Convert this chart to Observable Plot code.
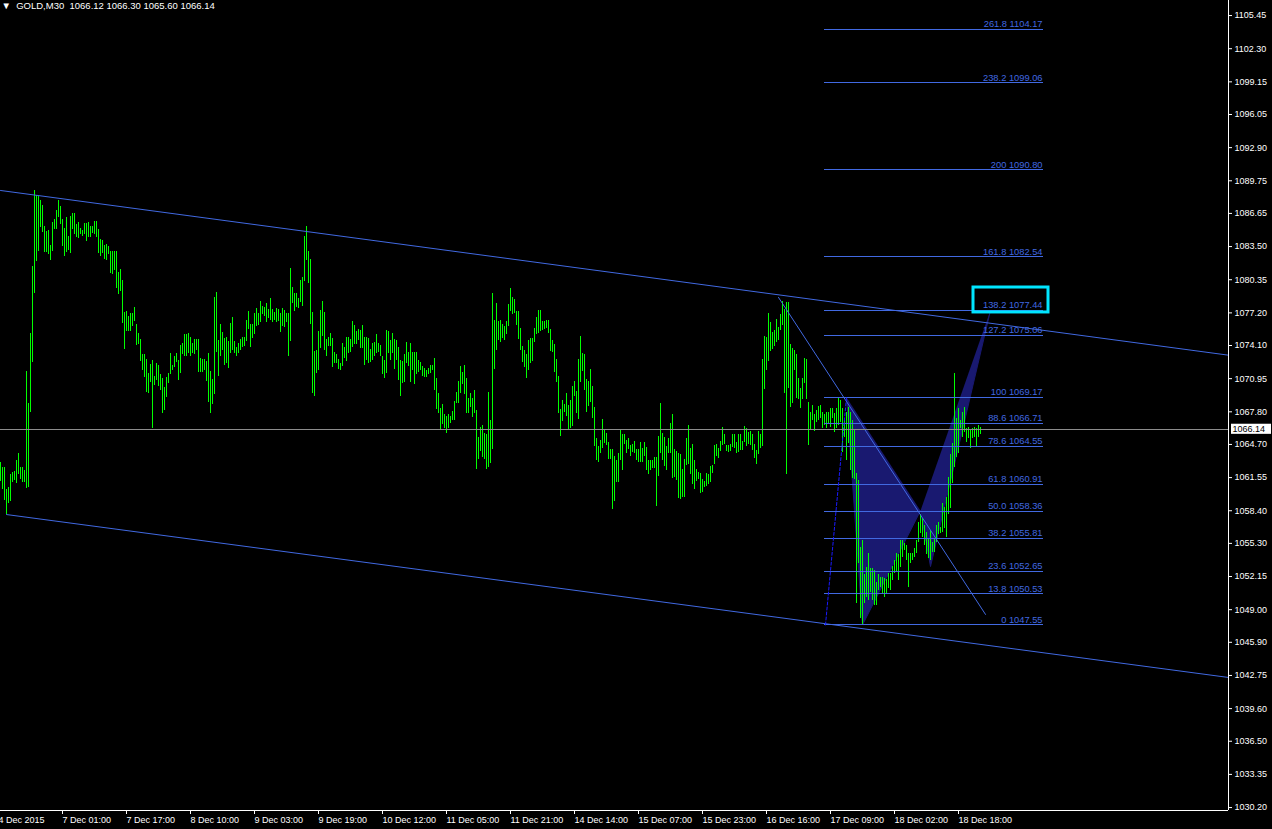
<!DOCTYPE html>
<html><head><meta charset="utf-8">
<script src="https://cdn.jsdelivr.net/npm/d3@7"></script>
<script src="https://cdn.jsdelivr.net/npm/@observablehq/plot@0.6"></script>
<style>html,body{margin:0;padding:0;background:#000;overflow:hidden}#chart svg{display:block}</style>
</head><body><div id="chart"></div>
<script>
const symbol = "GOLD,M30";
const lastBar = [1066.12, 1066.30, 1065.60, 1066.14]; // open high low close

const barHigh = [
1063.0,1062.5,1062.5,1060.4,1060.6,1061.8,1062.0,1062.1,1063.2,1063.8,
1062.5,1062.5,1062.2,1071.6,1068.6,1075.2,1081.6,1088.8,1088.4,1088.3,
1087.9,1087.4,1085.4,1084.9,1085.0,1083.6,1085.8,1086.1,1086.9,1087.9,
1087.3,1086.1,1085.2,1086.3,1084.5,1086.4,1086.6,1086.6,1085.6,1085.8,
1085.2,1085.0,1085.7,1085.7,1085.8,1085.4,1085.4,1085.9,1085.9,1085.1,
1084.2,1084.1,1083.6,1083.7,1083.5,1083.0,1083.0,1083.0,1083.0,1081.0,
1081.3,1080.3,1077.2,1077.3,1076.9,1077.1,1077.1,1077.7,1076.1,1075.2,
1074.7,1073.2,1073.2,1072.8,1071.4,1072.3,1072.7,1071.2,1072.4,1072.2,
1071.3,1071.0,1070.1,1071.1,1071.4,1073.3,1072.2,1073.1,1073.3,1072.7,
1074.1,1074.3,1075.1,1075.1,1075.2,1074.9,1074.3,1074.7,1074.7,1074.7,
1072.9,1072.8,1072.8,1072.6,1073.3,1071.6,1070.9,1078.7,1079.1,1074.6,
1076.1,1075.3,1074.8,1074.9,1074.5,1076.2,1076.8,1074.5,1073.9,1074.3,
1074.7,1074.9,1074.9,1076.5,1077.3,1076.1,1076.1,1077.1,1077.6,1077.1,
1078.3,1077.8,1077.7,1078.1,1077.5,1078.6,1077.5,1077.2,1077.6,1077.5,
1077.1,1077.6,1077.4,1077.1,1077.1,1081.4,1079.6,1079.0,1079.0,1078.6,
1080.3,1080.6,1084.5,1085.4,1083.0,1082.3,1077.2,1073.5,1073.6,1075.4,
1077.4,1078.3,1077.2,1074.7,1074.9,1075.2,1074.8,1073.4,1073.2,1072.8,
1072.4,1074.3,1073.9,1074.9,1074.9,1074.7,1076.4,1076.0,1075.4,1075.6,
1075.5,1076.0,1074.9,1074.9,1074.8,1073.7,1074.3,1074.4,1075.1,1074.3,
1074.1,1073.1,1072.7,1075.5,1075.4,1074.6,1075.2,1074.7,1074.6,1073.9,
1072.7,1072.6,1073.2,1074.4,1073.4,1074.3,1073.4,1073.4,1073.4,1072.7,
1072.5,1072.1,1071.9,1071.7,1071.9,1072.2,1072.2,1072.9,1071.0,1069.5,
1068.1,1068.5,1067.5,1067.4,1067.5,1067.4,1067.8,1068.8,1069.6,1070.7,
1072.1,1071.5,1072.2,1071.0,1069.1,1069.5,1069.1,1069.8,1067.9,1065.4,
1066.3,1066.5,1065.7,1065.6,1069.6,1067.0,1079.0,1076.5,1078.1,1076.4,
1076.5,1076.1,1075.9,1076.4,1078.0,1079.5,1078.7,1078.5,1077.3,1077.3,
1075.7,1074.0,1073.6,1073.2,1074.6,1074.8,1074.8,1075.7,1076.8,1077.4,
1077.4,1076.4,1076.4,1076.5,1076.5,1075.6,1074.6,1074.2,1072.8,1071.2,
1068.0,1068.9,1068.5,1069.5,1068.4,1068.9,1070.2,1070.7,1069.7,1072.8,
1075.0,1073.3,1073.2,1070.9,1070.7,1071.8,1070.2,1068.2,1065.3,1064.5,
1065.1,1067.1,1066.1,1065.7,1064.9,1064.2,1064.2,1063.6,1063.2,1063.8,
1066.0,1065.6,1065.6,1065.1,1065.3,1064.6,1064.7,1065.0,1064.2,1064.2,
1064.9,1064.3,1064.9,1064.4,1063.2,1063.2,1063.2,1063.5,1063.5,1065.5,
1068.6,1065.7,1065.4,1064.5,1065.3,1066.7,1067.5,1064.2,1064.0,1063.8,
1063.7,1062.3,1063.3,1065.3,1066.5,1064.3,1064.7,1063.2,1062.3,1062.0,
1061.9,1061.4,1061.2,1061.9,1061.8,1062.6,1062.7,1064.6,1064.7,1064.3,
1065.0,1066.3,1065.6,1064.6,1064.6,1064.7,1065.6,1065.6,1064.9,1065.6,
1065.6,1065.0,1066.4,1066.2,1065.8,1065.9,1065.6,1064.7,1064.1,1065.9,
1065.6,1072.8,1075.0,1074.9,1077.1,1076.3,1075.3,1075.5,1076.6,1075.8,
1077.0,1078.3,1077.5,1078.2,1078.2,1074.2,1073.8,1073.6,1073.2,1071.0,
1070.0,1071.0,1072.9,1072.8,1068.7,1067.7,1068.4,1067.5,1067.9,1068.3,
1068.4,1067.7,1067.5,1067.7,1067.7,1068.1,1068.1,1067.6,1068.1,1069.2,
1068.9,1068.1,1067.0,1067.7,1068.2,1067.7,1067.0,1066.0,1061.9,1061.3,
1054.9,1055.6,1052.3,1053.0,1054.3,1052.9,1052.9,1052.7,1051.6,1052.3,
1052.1,1052.1,1052.0,1051.9,1052.4,1052.4,1053.1,1053.7,1054.3,1054.2,
1055.6,1055.6,1055.3,1055.1,1054.3,1054.3,1054.3,1054.8,1055.6,1057.3,
1058.0,1057.7,1057.0,1056.3,1055.8,1056.5,1055.4,1055.8,1057.0,1057.3,
1056.8,1059.1,1058.7,1059.7,1061.6,1063.7,1064.8,1071.4,1067.2,1068.1,
1067.0,1067.7,1068.2,1066.2,1066.3,1066.0,1066.2,1066.3,1066.2,1066.5,1066.3
];
const barLow = [
1061.2,1060.4,1059.4,1058.0,1059.1,1059.3,1061.1,1061.3,1061.0,1061.8,
1061.4,1061.1,1061.1,1060.5,1060.6,1067.7,1072.5,1079.0,1082.1,1083.0,
1085.3,1084.8,1082.9,1082.9,1082.7,1082.2,1083.0,1085.1,1085.1,1086.3,
1085.6,1083.5,1082.6,1082.9,1083.1,1082.8,1085.1,1084.6,1084.4,1084.3,
1084.6,1084.5,1084.6,1084.0,1084.4,1084.4,1084.7,1084.6,1084.4,1082.8,
1082.6,1082.8,1082.3,1082.2,1082.7,1080.9,1080.8,1081.2,1079.5,1078.9,
1079.2,1076.2,1073.7,1075.4,1075.4,1075.4,1075.9,1076.4,1074.1,1074.2,
1072.6,1071.7,1071.1,1069.6,1069.5,1070.6,1066.2,1070.3,1070.8,1070.2,
1069.8,1067.6,1067.9,1069.2,1070.5,1071.3,1071.7,1072.0,1072.5,1070.8,
1071.4,1073.2,1073.1,1073.1,1073.3,1073.1,1073.3,1073.2,1073.6,1071.5,
1071.5,1071.5,1071.7,1070.7,1068.7,1067.6,1068.5,1069.4,1073.4,1071.2,
1073.1,1073.6,1072.2,1072.4,1071.9,1073.3,1073.6,1073.3,1073.1,1073.3,
1073.6,1073.9,1074.0,1074.5,1075.6,1073.9,1074.8,1075.1,1075.9,1076.0,
1076.3,1077.0,1076.9,1076.3,1076.7,1076.5,1076.3,1076.5,1076.3,1076.4,
1075.3,1075.9,1075.8,1076.3,1073.1,1074.5,1078.1,1077.3,1077.7,1077.6,
1078.2,1077.8,1080.2,1082.2,1080.0,1076.1,1069.5,1069.3,1071.4,1071.7,
1073.8,1075.0,1073.6,1073.1,1074.0,1074.0,1072.0,1072.4,1072.4,1071.8,
1071.7,1072.1,1072.9,1072.6,1073.3,1073.4,1073.9,1074.2,1074.2,1074.6,
1073.8,1073.8,1072.2,1072.7,1072.4,1072.5,1072.7,1073.1,1073.3,1073.4,
1073.1,1071.3,1071.0,1071.4,1073.3,1072.7,1073.3,1071.8,1072.7,1070.8,
1069.3,1070.5,1070.6,1072.4,1072.1,1070.6,1071.7,1070.4,1071.3,1071.5,
1071.7,1071.2,1071.1,1071.1,1071.3,1071.4,1071.7,1069.8,1068.0,1067.6,
1066.0,1066.6,1066.2,1065.7,1066.2,1066.7,1067.0,1067.0,1068.6,1068.6,
1069.5,1070.4,1069.4,1067.6,1067.6,1068.2,1067.3,1067.6,1062.3,1063.3,
1064.0,1063.5,1063.3,1062.3,1062.5,1062.9,1064.2,1071.8,1073.6,1074.6,
1074.4,1074.8,1074.6,1075.1,1075.9,1077.3,1077.0,1077.1,1076.0,1074.7,
1073.6,1072.5,1072.0,1071.0,1071.7,1072.4,1072.6,1074.4,1075.1,1075.2,
1075.4,1075.5,1075.6,1075.7,1075.2,1073.5,1073.4,1071.5,1070.6,1067.6,
1065.5,1066.9,1067.7,1067.4,1066.1,1066.2,1066.4,1069.3,1067.6,1067.1,
1070.6,1071.6,1069.8,1067.7,1068.3,1068.7,1067.2,1064.5,1063.2,1063.0,
1063.8,1064.3,1064.8,1064.6,1063.3,1063.3,1058.5,1059.3,1061.1,1061.1,
1063.2,1062.2,1064.7,1063.8,1064.2,1063.6,1063.9,1063.8,1063.2,1063.0,
1063.0,1063.0,1063.6,1062.2,1061.8,1062.2,1062.4,1062.4,1058.8,1061.7,
1063.8,1063.2,1062.6,1062.2,1063.8,1063.8,1061.5,1061.6,1061.3,1059.6,
1059.5,1059.7,1059.7,1062.7,1062.8,1061.8,1060.9,1060.4,1061.2,1061.4,
1060.0,1060.1,1060.6,1060.7,1060.9,1061.1,1061.9,1062.8,1063.6,1063.4,
1064.0,1064.6,1064.7,1064.0,1063.9,1064.0,1064.4,1064.3,1063.8,1063.9,
1064.1,1064.1,1064.9,1064.5,1064.7,1064.6,1064.1,1063.4,1062.8,1063.7,
1064.3,1064.5,1069.9,1071.7,1072.6,1073.5,1073.7,1074.0,1074.4,1074.6,
1075.5,1076.0,1069.5,1061.8,1070.0,1068.2,1068.6,1071.7,1069.1,1069.0,
1068.1,1069.0,1070.5,1069.0,1064.6,1066.0,1067.0,1065.9,1066.8,1067.0,
1067.2,1066.2,1066.5,1066.2,1066.7,1066.3,1067.2,1065.8,1066.2,1066.5,
1066.8,1063.9,1065.4,1063.2,1064.8,1062.2,1061.5,1061.4,1049.6,1053.4,
1048.2,1047.5,1049.6,1050.2,1049.9,1050.6,1049.9,1049.4,1049.4,1050.8,
1051.1,1050.5,1050.2,1050.5,1051.0,1050.8,1051.8,1052.4,1052.5,1051.8,
1053.0,1054.0,1054.6,1053.7,1051.1,1053.4,1053.7,1054.0,1054.3,1055.4,
1056.2,1055.9,1055.1,1054.2,1053.9,1053.7,1054.4,1054.4,1055.4,1056.1,
1056.2,1056.3,1056.7,1055.9,1058.0,1058.6,1061.0,1062.5,1063.5,1063.8,
1066.2,1065.4,1065.8,1064.9,1065.3,1064.3,1065.3,1065.4,1064.4,1065.4,1065.6
];

const priceTicks = [1105.45,1102.30,1099.15,1096.05,1092.90,1089.75,1086.65,1083.50,1080.35,1077.20,
  1074.10,1070.95,1067.80,1064.70,1061.55,1058.40,1055.30,1052.15,1049.00,1045.90,1042.75,1039.60,1036.50,1033.35,1030.20];
const dateTickBars = [-1,31,63,95,127,159,191,223,255,287,319,351,383,415,447,479];
const dateTickLabels = ["4 Dec 2015","7 Dec 01:00","7 Dec 17:00","8 Dec 10:00","9 Dec 03:00","9 Dec 19:00",
  "10 Dec 12:00","11 Dec 05:00","11 Dec 21:00","14 Dec 14:00","15 Dec 07:00","15 Dec 23:00",
  "16 Dec 16:00","17 Dec 09:00","18 Dec 02:00","18 Dec 18:00"];

const fibPct = ["261.8","238.2","200","161.8","138.2","127.2","100","88.6","78.6","61.8","50.0","38.2","23.6","13.8","0"];
const fibPrice = [1104.17,1099.06,1090.80,1082.54,1077.44,1075.06,1069.17,1066.71,1064.55,1060.91,1058.36,1055.81,1052.65,1050.53,1047.55];
const fibBars = [412, 521.5];

const channelUpper = [[0, 1088.83], [614, 1073.18]];
const channelLower = [[3, 1058.04], [614, 1042.56]];
const trendLine = [[389, 1078.67], [492.5, 1048.55]];
const legXA = [[412.5, 1047.55], [423, 1069.17]];
const triangleA = [[423, 1069.17], [431, 1047.55], [460, 1058.4]];
const triangleB = [[460, 1058.4], [465, 1053.1], [495, 1077.44]];
const highlightBox = [[486.5, 1077.24], [524, 1079.61]];

const xDomain = [0, 614];
const yDomain = [1029.92, 1106.88];

const bars = barHigh.map((h, i) => ({i, high: h, low: barLow[i]}));
const tris = [...triangleA.map(p => ({t: "A", i: p[0], p: p[1]})), ...triangleB.map(p => ({t: "B", i: p[0], p: p[1]}))];
const fib = fibPrice.map((p, k) => ({p, label: `${fibPct[k]} ${p.toFixed(2)}`}));
const dateLabel = new Map(dateTickBars.map((b, k) => [b, dateTickLabels[k]]));
const pt = {x: d => d[0], y: d => d[1]};
const blue = "#4169E1";
const close = lastBar[3];

const chart = Plot.plot({
  width: 1272, height: 829,
  marginLeft: 0, marginRight: 44, marginTop: 0, marginBottom: 19,
  x: {domain: xDomain},
  y: {domain: yDomain},
  style: {background: "#000", color: "#fff", fontFamily: "'Liberation Sans', Arial, sans-serif", fontSize: "9px"},
  marks: [
    Plot.line(tris, {x: "i", y: "p", z: "t", fill: "#191970", stroke: "#191970", strokeWidth: 1}),
    Plot.ruleX(bars, {x: "i", y1: "low", y2: "high", stroke: "#00ff00", strokeWidth: 1, shapeRendering: "crispEdges"}),
    Plot.line(channelUpper, {...pt, stroke: blue, strokeWidth: 1}),
    Plot.line(channelLower, {...pt, stroke: blue, strokeWidth: 1}),
    Plot.line(trendLine, {...pt, stroke: blue, strokeWidth: 1}),
    Plot.ruleY(fib, {y: "p", x1: fibBars[0], x2: fibBars[1], stroke: blue, strokeWidth: 1, shapeRendering: "crispEdges"}),
    Plot.text(fib, {y: "p", x: fibBars[1], text: "label", textAnchor: "end", lineAnchor: "bottom", dy: -2, dx: -1, fill: blue, fontSize: 9.3}),
    Plot.line(legXA, {...pt, stroke: "#1a1aff", strokeWidth: 1, strokeDasharray: "3,2"}),
    Plot.ruleY([close], {stroke: "#8c8c8c", strokeWidth: 1, shapeRendering: "crispEdges"}),
    Plot.rect([highlightBox], {x1: d => d[0][0], x2: d => d[1][0], y1: d => d[0][1], y2: d => d[1][1], fill: "none", stroke: "#00e5ff", strokeWidth: 3}),
    Plot.ruleY([yDomain[0]], {stroke: "#fff", shapeRendering: "crispEdges"}),
    Plot.ruleX([xDomain[1]], {stroke: "#fff", shapeRendering: "crispEdges"}),
    Plot.axisY(priceTicks, {anchor: "right", tickSize: 3, tickPadding: 3, tickFormat: d => d.toFixed(2), stroke: "#fff", fill: "#fff", label: null, fontSize: 9}),
    Plot.axisX(dateTickBars, {anchor: "bottom", tickSize: 4, tickPadding: 2, tickFormat: d => dateLabel.get(d), textAnchor: "start", stroke: "#fff", fill: "#fff", label: null, fontSize: 9}),
    Plot.rect([close], {x1: () => xDomain[1] + 1.5, x2: () => xDomain[1] + 21.5, y1: d => d - 0.48, y2: d => d + 0.48, fill: "#fff"}),
    Plot.text([close], {x: () => xDomain[1], y: d => d, text: d => d.toFixed(2), textAnchor: "start", dx: 4, fill: "#000", fontSize: 9}),
    Plot.text([`\u25BC  ${symbol}  ${lastBar.map(v => v.toFixed(2)).join(" ")}`], {frameAnchor: "top-left", textAnchor: "start", lineAnchor: "bottom", dx: 1, dy: 8, fill: "#fff", fontSize: 9.5})
  ]
});
document.getElementById("chart").appendChild(chart);
</script>
</body></html>
